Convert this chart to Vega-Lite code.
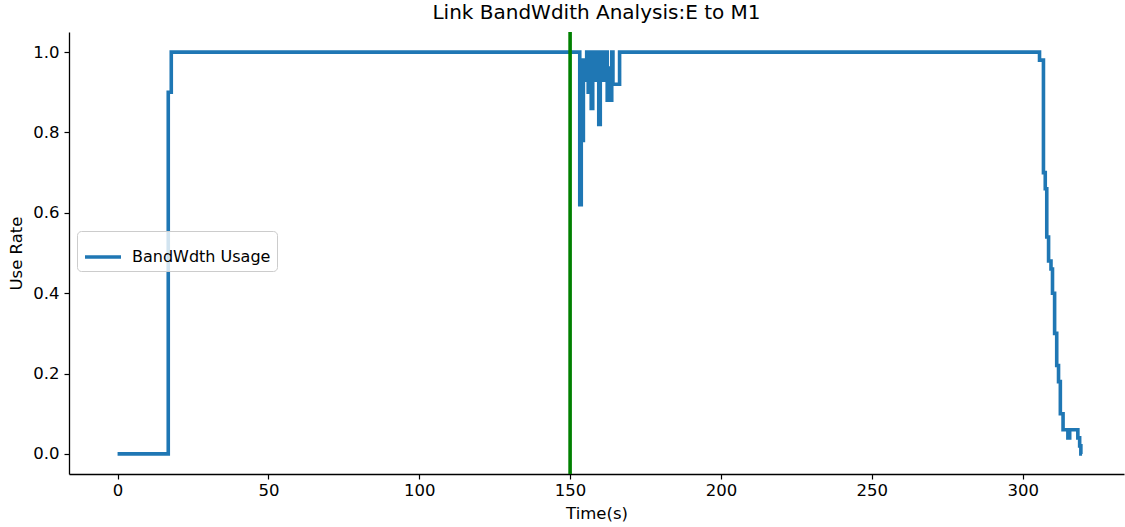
{
  "$schema": "https://vega.github.io/schema/vega-lite/v6.json",
  "width": 1055,
  "height": 442,
  "autosize": {"type": "none"},
  "padding": {"left": 69, "top": 32, "right": 1, "bottom": 53},
  "background": "white",
  "title": {
    "text": "Link BandWdith Analysis:E to M1",
    "font": "DejaVu Sans",
    "fontSize": 20,
    "fontWeight": "normal",
    "color": "black",
    "offset": 7
  },
  "config": {
    "view": {"stroke": null},
    "font": "DejaVu Sans",
    "axis": {
      "grid": false,
      "domainColor": "black",
      "domainWidth": 1.3,
      "tickColor": "black",
      "tickSize": 5,
      "tickWidth": 1.2,
      "labelColor": "black",
      "labelFont": "DejaVu Sans",
      "labelFontSize": 16.5,
      "titleColor": "black",
      "titleFont": "DejaVu Sans",
      "titleFontSize": 16.5,
      "titleFontWeight": "normal"
    }
  },
  "datasets": {
    "usage": [
      {"t": 0, "rate": 0, "series": "BandWdth Usage"},
      {"t": 16.8, "rate": 0.9, "series": "BandWdth Usage"},
      {"t": 17.8, "rate": 1.0, "series": "BandWdth Usage"},
      {"t": 153.2, "rate": 0.62, "series": "BandWdth Usage"},
      {"t": 153.7, "rate": 0.78, "series": "BandWdth Usage"},
      {"t": 154.4, "rate": 0.98, "series": "BandWdth Usage"},
      {"t": 155.0, "rate": 0.93, "series": "BandWdth Usage"},
      {"t": 155.5, "rate": 1.0, "series": "BandWdth Usage"},
      {"t": 156.0, "rate": 0.9, "series": "BandWdth Usage"},
      {"t": 156.5, "rate": 1.0, "series": "BandWdth Usage"},
      {"t": 157.0, "rate": 0.86, "series": "BandWdth Usage"},
      {"t": 157.5, "rate": 0.95, "series": "BandWdth Usage"},
      {"t": 158.0, "rate": 1.0, "series": "BandWdth Usage"},
      {"t": 158.4, "rate": 0.93, "series": "BandWdth Usage"},
      {"t": 159.0, "rate": 1.0, "series": "BandWdth Usage"},
      {"t": 159.5, "rate": 0.82, "series": "BandWdth Usage"},
      {"t": 160.0, "rate": 0.96, "series": "BandWdth Usage"},
      {"t": 160.5, "rate": 1.0, "series": "BandWdth Usage"},
      {"t": 161.0, "rate": 0.93, "series": "BandWdth Usage"},
      {"t": 161.5, "rate": 1.0, "series": "BandWdth Usage"},
      {"t": 162.3, "rate": 0.88, "series": "BandWdth Usage"},
      {"t": 162.8, "rate": 0.96, "series": "BandWdth Usage"},
      {"t": 163.3, "rate": 0.88, "series": "BandWdth Usage"},
      {"t": 163.8, "rate": 1.0, "series": "BandWdth Usage"},
      {"t": 164.2, "rate": 0.92, "series": "BandWdth Usage"},
      {"t": 166.4, "rate": 1.0, "series": "BandWdth Usage"},
      {"t": 305.6, "rate": 0.98, "series": "BandWdth Usage"},
      {"t": 306.9, "rate": 0.7, "series": "BandWdth Usage"},
      {"t": 307.5, "rate": 0.66, "series": "BandWdth Usage"},
      {"t": 308.0, "rate": 0.54, "series": "BandWdth Usage"},
      {"t": 308.6, "rate": 0.48, "series": "BandWdth Usage"},
      {"t": 309.4, "rate": 0.46, "series": "BandWdth Usage"},
      {"t": 309.9, "rate": 0.4, "series": "BandWdth Usage"},
      {"t": 310.6, "rate": 0.3, "series": "BandWdth Usage"},
      {"t": 311.3, "rate": 0.22, "series": "BandWdth Usage"},
      {"t": 311.9, "rate": 0.18, "series": "BandWdth Usage"},
      {"t": 312.5, "rate": 0.1, "series": "BandWdth Usage"},
      {"t": 313.4, "rate": 0.06, "series": "BandWdth Usage"},
      {"t": 315.0, "rate": 0.04, "series": "BandWdth Usage"},
      {"t": 315.6, "rate": 0.06, "series": "BandWdth Usage"},
      {"t": 318.3, "rate": 0.04, "series": "BandWdth Usage"},
      {"t": 318.9, "rate": 0.02, "series": "BandWdth Usage"},
      {"t": 319.3, "rate": 0.0, "series": "BandWdth Usage"},
      {"t": 319.7, "rate": 0.0, "series": "BandWdth Usage"}
    ],
    "marker": [{"t": 150}]
  },
  "layer": [
    {
      "data": {"name": "usage"},
      "mark": {"type": "line", "interpolate": "step-after", "strokeWidth": 3.6, "strokeJoin": "miter", "strokeCap": "butt"},
      "encoding": {
        "x": {
          "field": "t",
          "type": "quantitative",
          "title": "Time(s)",
          "scale": {"domain": [-16.1, 333.6], "nice": false, "zero": false},
          "axis": {"values": [0, 50, 100, 150, 200, 250, 300], "labelPadding": 3, "titlePadding": 7, "labelFlush": false}
        },
        "y": {
          "field": "rate",
          "type": "quantitative",
          "title": "Use Rate",
          "scale": {"domain": [-0.05, 1.05], "nice": false, "zero": false},
          "axis": {"values": [0, 0.2, 0.4, 0.6, 0.8, 1.0], "format": ".1f", "labelPadding": 5, "titlePadding": 8, "labelFlush": false}
        },
        "color": {
          "field": "series",
          "type": "nominal",
          "scale": {"range": ["#1f77b4"]},
          "legend": {
            "title": null,
            "orient": "none",
            "legendX": 8,
            "legendY": 199,
            "symbolType": "stroke",
            "symbolSize": 1296,
            "symbolStrokeWidth": 3.6,
            "labelFont": "DejaVu Sans",
            "labelFontSize": 16,
            "labelColor": "black",
            "labelOffset": 9,
            "padding": 6,
            "cornerRadius": 4,
            "fillColor": "rgba(255,255,255,0.8)",
            "strokeColor": "#cccccc"
          }
        }
      }
    },
    {
      "data": {"name": "marker"},
      "mark": {"type": "rule", "color": "#008000", "strokeWidth": 3.6},
      "encoding": {"x": {"field": "t", "type": "quantitative"}}
    },
    {
      "mark": {"type": "rule", "color": "black", "strokeWidth": 1.3},
      "encoding": {"y": {"datum": 1.05}}
    }
  ]
}
